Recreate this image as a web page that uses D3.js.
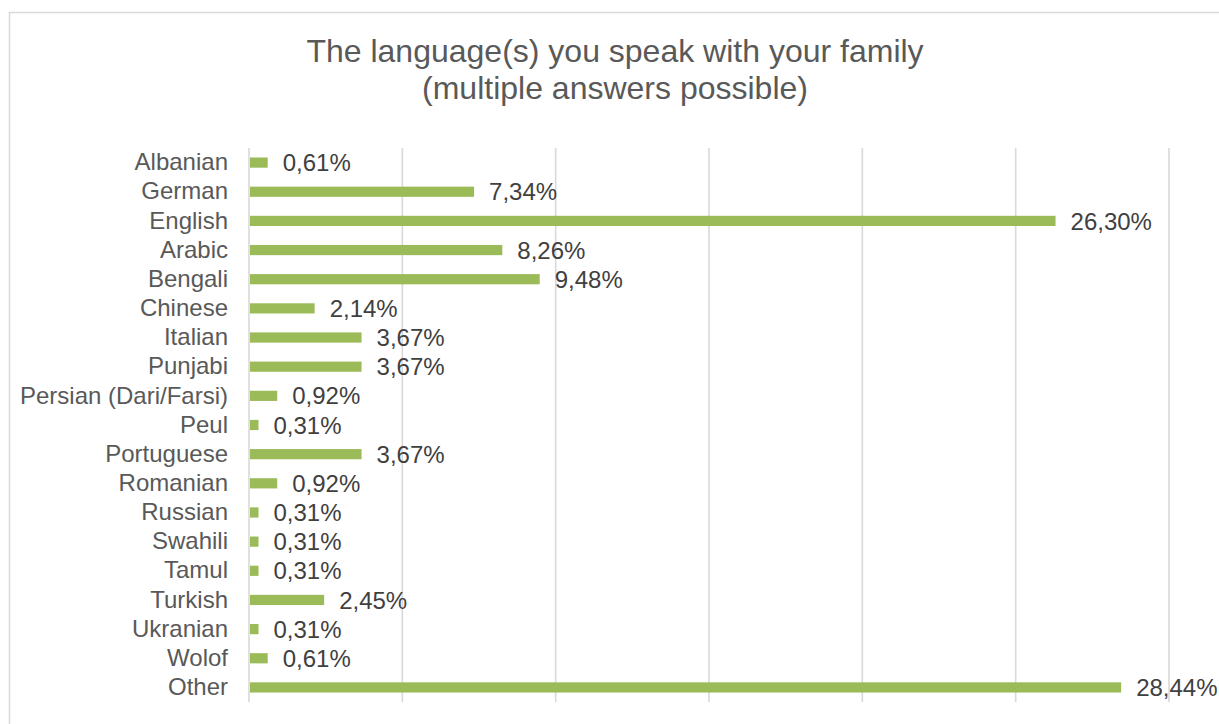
<!DOCTYPE html>
<html>
<head>
<meta charset="utf-8">
<script src="https://cdn.jsdelivr.net/npm/d3@7"></script>
<style>
  html, body { margin: 0; padding: 0; background: #fff; }
  svg { display: block; font-family: "Liberation Sans", Arial, sans-serif; }
</style>
</head>
<body>
<svg id="chart" width="1219" height="724"></svg>
<script>
// Languages spoken at home (share of respondents, %)
const categories = ["Albanian", "German", "English", "Arabic", "Bengali", "Chinese", "Italian",
  "Punjabi", "Persian (Dari/Farsi)", "Peul", "Portuguese", "Romanian", "Russian", "Swahili",
  "Tamul", "Turkish", "Ukranian", "Wolof", "Other"];
const values = [0.61, 7.34, 26.30, 8.26, 9.48, 2.14, 3.67, 3.67, 0.92, 0.31, 3.67, 0.92, 0.31,
  0.31, 0.31, 2.45, 0.31, 0.61, 28.44];
const gridTicks = [0, 5, 10, 15, 20, 25, 30];
const titleLines = ["The language(s) you speak with your family", "(multiple answers possible)"];

const svg = d3.select("#chart");
const textColor = "#595959";
const valueColor = "#404040";
const gridColor = "#d9d9d9";
const barColor = "#9bbb59";

// outer frame
svg.append("rect")
  .attr("x", 9.5).attr("y", 12.5)
  .attr("width", 1230).attr("height", 740)
  .attr("fill", "none")
  .attr("stroke", gridColor)
  .attr("stroke-width", 1.5);

// title
svg.append("g").selectAll("text")
  .data(titleLines)
  .join("text")
  .attr("x", 615)
  .attr("y", (d, i) => 62 + i * 37)
  .attr("text-anchor", "middle")
  .attr("fill", textColor)
  .attr("font-size", 32)
  .text(d => d);

const x = d3.scaleLinear().domain([0, 30]).range([249, 1169]);
const y = d3.scaleBand().domain(categories).range([148, 702]).paddingInner(0.65).paddingOuter(0.325);

// vertical gridlines
svg.append("g").selectAll("line")
  .data(gridTicks)
  .join("line")
  .attr("x1", d => x(d)).attr("x2", d => x(d))
  .attr("y1", 148).attr("y2", 702)
  .attr("stroke", gridColor)
  .attr("stroke-width", 1.6);

// category axis labels
const yAxis = d3.axisLeft(y).tickSize(0).tickPadding(21);
const gy = svg.append("g").attr("transform", `translate(${x(0)},0)`).call(yAxis);
gy.select(".domain").remove();
gy.selectAll("text")
  .attr("fill", textColor)
  .attr("font-size", 24)
  .attr("font-family", "'Liberation Sans', Arial, sans-serif");

// bars
svg.append("g").selectAll("rect")
  .data(values)
  .join("rect")
  .attr("x", x(0) + 1)
  .attr("y", (d, i) => y(categories[i]))
  .attr("width", d => x(d) - x(0) - 1)
  .attr("height", y.bandwidth())
  .attr("fill", barColor);

// value labels
svg.append("g").selectAll("text")
  .data(values)
  .join("text")
  .attr("x", d => x(d) + 15)
  .attr("y", (d, i) => y(categories[i]) + y.bandwidth() / 2)
  .attr("dy", "0.36em")
  .attr("fill", valueColor)
  .attr("font-size", 24)
  .text(d => d.toFixed(2).replace(".", ",") + "%");
</script>
</body>
</html>
